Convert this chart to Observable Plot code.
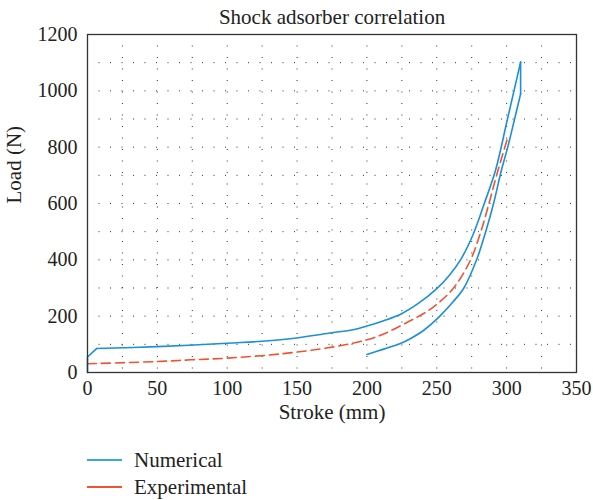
<!DOCTYPE html>
<html>
<head>
<meta charset="utf-8">
<script src="https://cdn.jsdelivr.net/npm/d3@7"></script>
<script src="https://cdn.jsdelivr.net/npm/@observablehq/plot@0.6"></script>
<style>
  body { margin: 0; background: #fff; font-family: "Liberation Serif", "DejaVu Serif", serif; }
  #chart { width: 593px; }
  .legend { position: relative; height: 70px; font-size: 21px; color: #222; }
  .item { position: absolute; left: 87px; display: flex; align-items: center; height: 24px; }
  .item .sw { width: 35px; height: 0; border-top: 2px solid; margin-right: 12px; }
</style>
</head>
<body>
<div id="chart"></div>
<script>
// Numerical (simulated) hysteresis loop: stroke (mm), load (N)
// loading branch (indices 0..19), then unloading branch from the top back to 200 mm
const numStroke = [0, 0, 6.5, 50, 100, 138, 175, 190, 200, 212, 224.5, 237, 250, 258.6, 267, 276, 284, 292, 300.6, 310,
                   310, 305.7, 300.8, 296.2, 290.6, 284.9, 278.5, 269.4, 261.5, 252.2, 240.7, 231, 224, 212, 200];
const numLoad   = [0, 55, 85, 92, 104, 116, 141, 152, 165, 184, 208, 246, 298, 343, 400, 490, 600, 717, 900, 1102,
                   989, 900, 800, 717, 599, 498, 400, 300, 250, 200, 150, 120, 103, 83, 64];
// Experimental curve
const expStroke = [0, 50, 74, 100, 138, 175, 200, 212, 224.5, 237.2, 248, 262, 274.2, 281.4, 287.3, 292.8, 300.3];
const expLoad   = [31, 39, 45, 51, 66, 90, 116, 137, 167, 200, 234, 300, 400, 498, 599, 700, 826];

const xTicks = [0, 50, 100, 150, 200, 250, 300, 350];
const yTicks = [0, 200, 400, 600, 800, 1000, 1200];
const xGrid = d3.range(25, 350, 25);
const yGrid = d3.range(100, 1200, 100);

const numerical = numStroke.map((s, i) => ({stroke: s, load: numLoad[i]}));
const experimental = expStroke.map((s, i) => ({stroke: s, load: expLoad[i]}));
// pieces of the loop: sharp corners at the start and at the top, smooth elsewhere
const numStart = numerical.slice(0, 3);
const numUpper = numerical.slice(2, 20);
const numTop = numerical.slice(19, 21);
const numLower = numerical.slice(20);

const blue = "#1b8fd8";
const red = "#ef5430";
const font = "Liberation Serif, DejaVu Serif, serif";

const chart = Plot.plot({
  width: 593,
  height: 430,
  marginTop: 34,
  marginLeft: 87,
  marginRight: 17,
  marginBottom: 58,
  style: {fontFamily: font, fontSize: "20px", color: "#222", background: "#fff"},
  x: {domain: [0, 350], ticks: xTicks, tickSize: 0, tickPadding: 8, tickFormat: "d", label: null},
  y: {domain: [0, 1200], ticks: yTicks, tickSize: 0, tickPadding: 10, tickFormat: "d", label: null},
  marks: [
    Plot.ruleX(xGrid, {stroke: "#333", strokeDasharray: "1,10.5", strokeWidth: 1}),
    Plot.ruleY(yGrid, {stroke: "#333", strokeDasharray: "1,10.5", strokeWidth: 1}),
    Plot.line(experimental, {x: "stroke", y: "load", stroke: red, strokeWidth: 1.6, strokeDasharray: "9,5", curve: "catmull-rom"}),
    Plot.line(numStart, {x: "stroke", y: "load", stroke: blue, strokeWidth: 1.6}),
    Plot.line(numUpper, {x: "stroke", y: "load", stroke: blue, strokeWidth: 1.6, curve: "catmull-rom"}),
    Plot.line(numTop, {x: "stroke", y: "load", stroke: blue, strokeWidth: 1.6}),
    Plot.line(numLower, {x: "stroke", y: "load", stroke: blue, strokeWidth: 1.6, curve: "catmull-rom"}),
    Plot.frame({stroke: "#333", strokeWidth: 1.3}),
    Plot.text(["Shock adsorber correlation"], {frameAnchor: "top", dy: -17, lineAnchor: "middle", fontSize: 21, fill: "#222"}),
    Plot.text(["Stroke (mm)"], {frameAnchor: "bottom", dy: 40, lineAnchor: "middle", fontSize: 21, fill: "#222"}),
    Plot.text(["Load (N)"], {frameAnchor: "left", dx: -73, rotate: -90, lineAnchor: "middle", fontSize: 21, fill: "#222"})
  ]
});
document.getElementById("chart").appendChild(chart);

const legend = document.createElement("div");
legend.className = "legend";
legend.innerHTML = `
  <div class="item" style="top:18px"><span class="sw" style="border-color:#3aa8e0"></span>Numerical</div>
  <div class="item" style="top:45px"><span class="sw" style="border-color:${red}"></span>Experimental</div>`;
document.getElementById("chart").appendChild(legend);
</script>
</body>
</html>
